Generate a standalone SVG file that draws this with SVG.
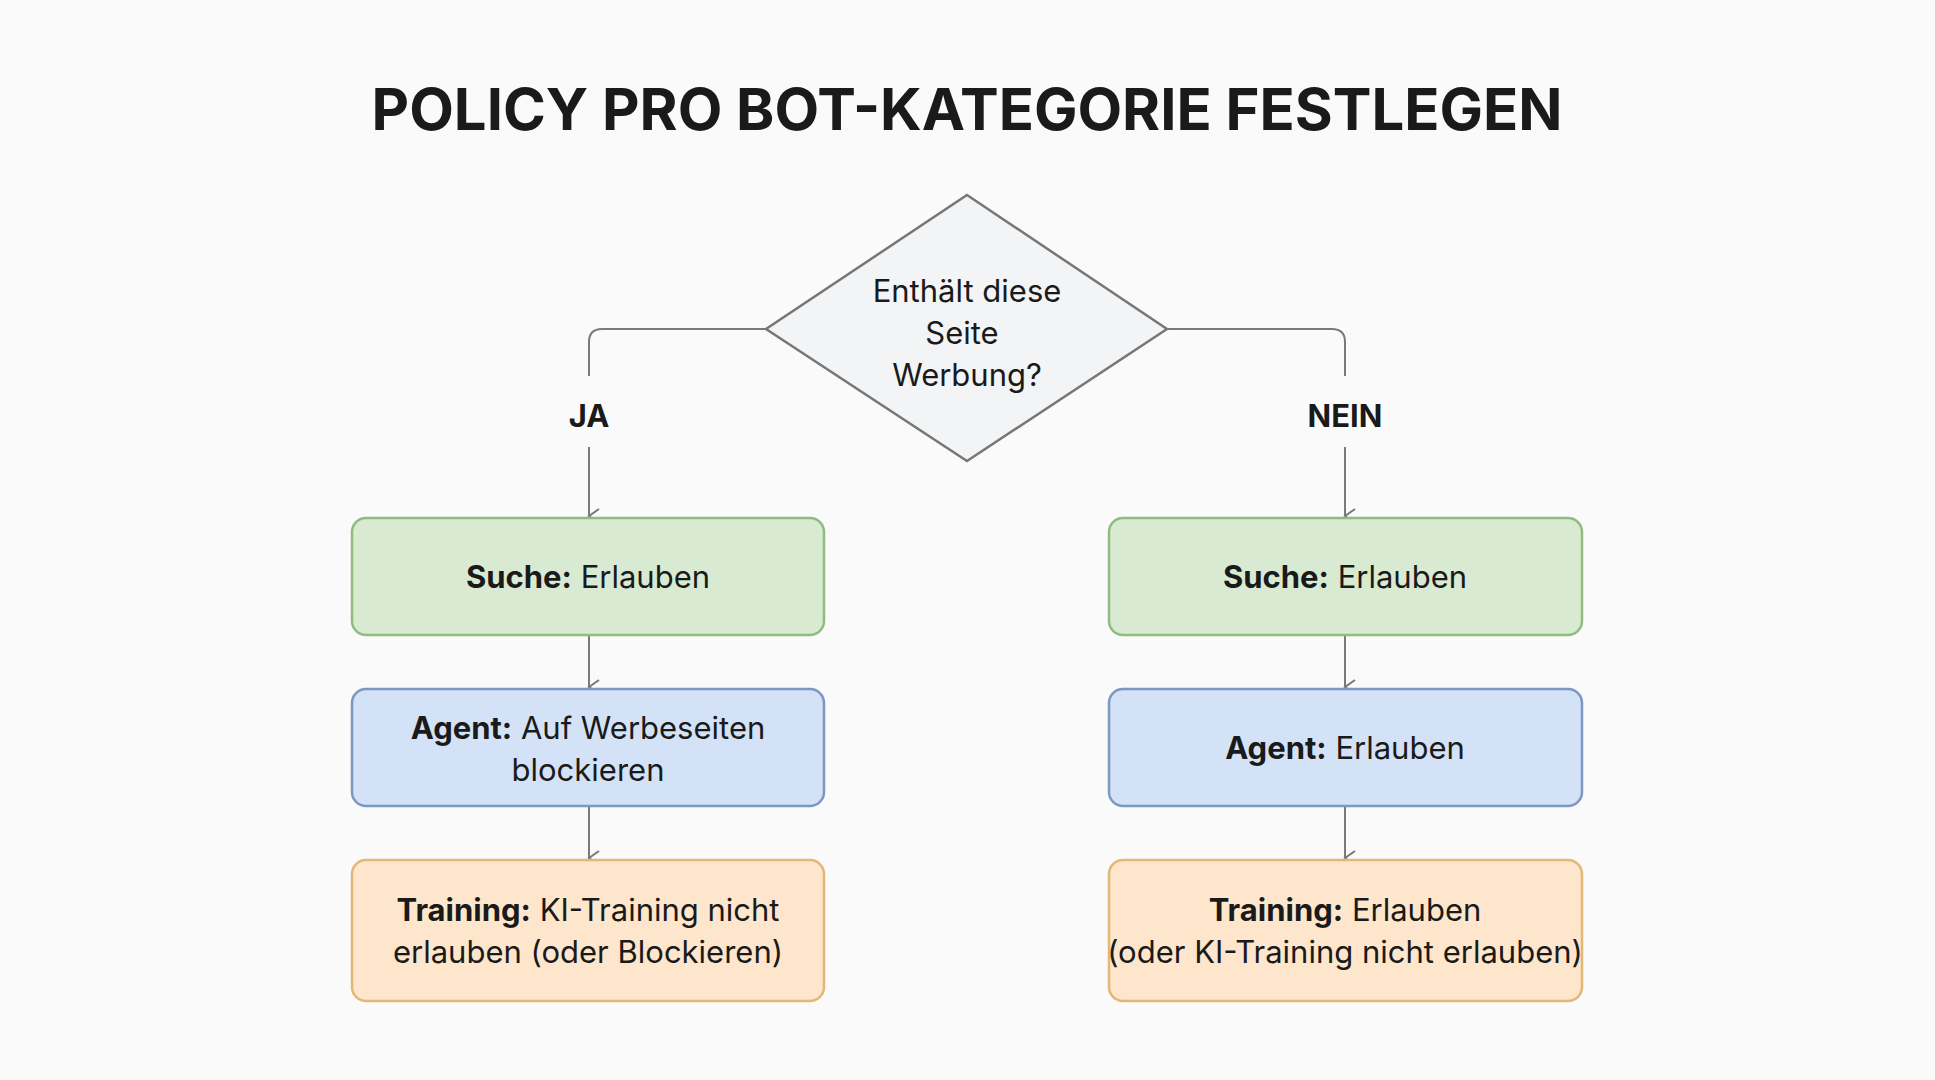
<svg xmlns="http://www.w3.org/2000/svg" width="1935" height="1080" viewBox="0 0 1935 1080">
<defs>
<marker id="ah" markerWidth="16" markerHeight="16" refX="8" refY="13" orient="auto-start-reverse" markerUnits="userSpaceOnUse" viewBox="0 0 16 16"><path d="M1,3 L8,13 L15,3" fill="none" stroke="#777" stroke-width="2"/></marker>
<style>
text{font-family:Inter,"Liberation Sans",sans-serif;fill:#1a1a1a;text-anchor:middle}
.t{font-size:31px}
.b{font-weight:bold}
.c{fill:none;stroke:#7a7a7a;stroke-width:2}
.g{fill:#d9ead3;stroke:#8fbc7f;stroke-width:2.5}
.bl{fill:#d3e2f6;stroke:#7d98c0;stroke-width:2.5}
.o{fill:#fde6cc;stroke:#e3b777;stroke-width:2.5}
</style>
</defs>
<rect width="1935" height="1080" fill="#fafafa"/>
<text x="967" y="130" style="font-size:58px;font-weight:bold">POLICY PRO BOT-KATEGORIE FESTLEGEN</text>
<g id="connectors">
<path class="c" d="M766,329 H602 Q589,329 589,342 V376"/>
<path class="c" d="M1167,329 H1332 Q1345,329 1345,342 V376"/>
<path class="c" d="M589,447 V516" marker-end="url(#ah)"/>
<path class="c" d="M1345,447 V516" marker-end="url(#ah)"/>
<path class="c" d="M589,635 V687" marker-end="url(#ah)"/>
<path class="c" d="M589,806 V858" marker-end="url(#ah)"/>
<path class="c" d="M1345,635 V687" marker-end="url(#ah)"/>
<path class="c" d="M1345,806 V858" marker-end="url(#ah)"/>
</g>
<g id="decision">
<polygon points="967,195 1167,329 967,461 766,329" fill="#f2f4f6" stroke="#777" stroke-width="2.5"/>
<text class="t" x="967" y="302">Enthält diese</text>
<text class="t" x="962" y="344">Seite</text>
<text class="t" x="967" y="386">Werbung?</text>
</g>
<g id="label-ja"><text class="t b" x="589" y="427">JA</text></g>
<g id="label-nein"><text class="t b" x="1345" y="427">NEIN</text></g>
<g id="l-suche"><rect class="g" x="352" y="518" width="472" height="117" rx="14"/><text class="t" x="588" y="588"><tspan class="b">Suche:</tspan> Erlauben</text></g>
<g id="l-agent"><rect class="bl" x="352" y="689" width="472" height="117" rx="14"/><text class="t" x="588" y="739"><tspan class="b">Agent:</tspan> Auf Werbeseiten</text><text class="t" x="588" y="781">blockieren</text></g>
<g id="l-training"><rect class="o" x="352" y="860" width="472" height="141" rx="14"/><text class="t" x="588" y="921"><tspan class="b">Training:</tspan> KI-Training nicht</text><text class="t" x="588" y="963">erlauben (oder Blockieren)</text></g>
<g id="r-suche"><rect class="g" x="1109" y="518" width="473" height="117" rx="14"/><text class="t" x="1345" y="588"><tspan class="b">Suche:</tspan> Erlauben</text></g>
<g id="r-agent"><rect class="bl" x="1109" y="689" width="473" height="117" rx="14"/><text class="t" x="1345" y="759"><tspan class="b">Agent:</tspan> Erlauben</text></g>
<g id="r-training"><rect class="o" x="1109" y="860" width="473" height="141" rx="14"/><text class="t" x="1345" y="921"><tspan class="b">Training:</tspan> Erlauben</text><text class="t" x="1345" y="963">(oder KI-Training nicht erlauben)</text></g>
</svg>
